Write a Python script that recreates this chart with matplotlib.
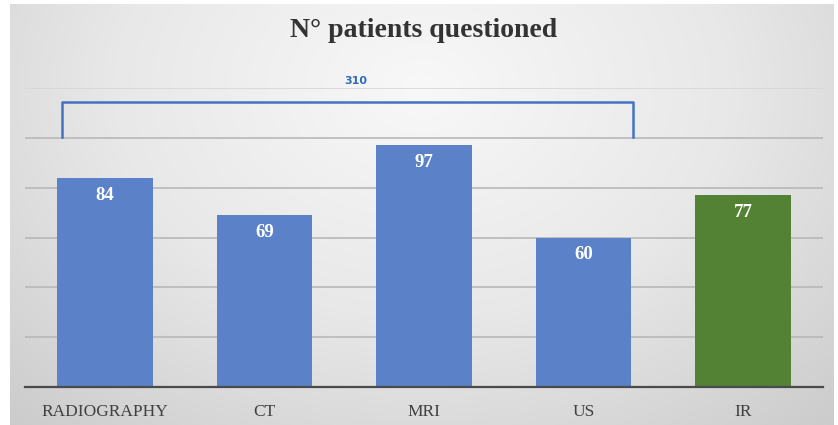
import numpy as np
import matplotlib as mpl
from matplotlib import pyplot as plt

# data
categories = ['RADIOGRAPHY', 'CT', 'MRI', 'US', 'IR']
patients = [84, 69, 97, 60, 77]
bar_colors = ['#5b82c9', '#5b82c9', '#5b82c9', '#5b82c9', '#548235']
group_total = sum(patients[:4])   # 310, bracket over the first four

fig = plt.figure(figsize=(8.38, 4.25), dpi=100)
fig.patch.set_facecolor('white')

# background gradient (radial, light in the middle, darker at edges)
bg = fig.add_axes([10 / 838, 0, 823 / 838, 1 - 4 / 425], zorder=0)
yy, xx = np.mgrid[0:1:200j, 0:1:400j]
r = np.sqrt(((xx - 0.5) / 0.75) ** 2 + ((yy - 0.2) / 1.1) ** 2)
r = np.clip(r, 0, 1)
cmap = mpl.colors.LinearSegmentedColormap.from_list('bg', ['#f8f8f8', '#e8e8e8', '#cbcbcb'])
bg.imshow(r, cmap=cmap, aspect='auto', extent=[0, 1, 0, 1], origin='upper', vmin=0, vmax=1)
bg.axis('off')

ax = fig.add_axes([25 / 838, 38 / 425, 798 / 838, 299 / 425], zorder=1)
ax.set_facecolor('none')

x = np.arange(len(categories))
ax.bar(x, patients, width=0.6, color=bar_colors, zorder=2)

# value labels inside bars
for xi, v in zip(x, patients):
    ax.text(xi, v - 3.6, str(v), ha='center', va='top', color='white',
            fontsize=13.5, fontweight='bold', family='Liberation Serif', zorder=3)

ax.set_xlim(-0.5, len(categories) - 0.5)
ax.set_ylim(0, 120)
ax.set_yticks(np.arange(20, 121, 20))
ax.yaxis.grid(True, color='#b8b8b8', linewidth=1.2, zorder=1)
ax.get_ygridlines()[-1].set_color('#d6d6d6')
ax.set_axisbelow(True)
ax.tick_params(axis='y', left=False, labelleft=False)
ax.tick_params(axis='x', bottom=False, pad=9)
ax.set_xticks(x)
ax.set_xticklabels(categories, family='Liberation Serif', fontsize=12.5, color='#404040')
for s in ['top', 'right', 'left']:
    ax.spines[s].set_visible(False)
ax.spines['bottom'].set_color('#4a4a4a')
ax.spines['bottom'].set_linewidth(1.6)

# bracket over the first four groups
bx0, bx1 = x[0] - 0.27, x[3] + 0.31
ax.plot([bx0, bx0, bx1, bx1], [100.5, 114.3, 114.3, 100.5], color='#4472c4',
        linewidth=1.8, solid_joinstyle='round', clip_on=False, zorder=3)
ax.text((bx0 + bx1) / 2 + 0.05, 123, str(group_total), ha='center', va='center',
        color='#2e6db8', fontsize=8, fontweight='bold', clip_on=False)

fig.text(0.506, 0.928, 'N° patients questioned', ha='center', va='center',
         fontsize=20, fontweight='bold', family='Liberation Serif', color='#333333')

fig.savefig('out.png', dpi=100)
